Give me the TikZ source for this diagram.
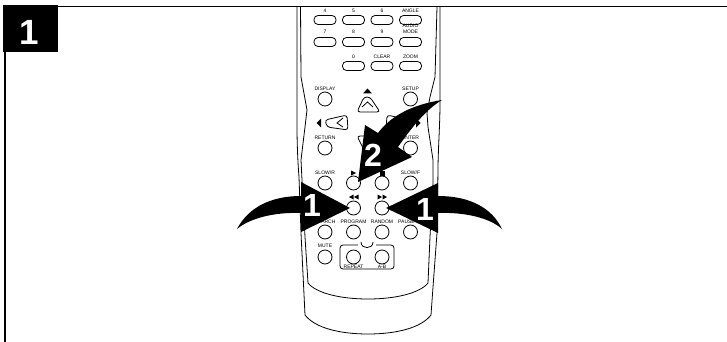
\documentclass[tikz,border=0pt]{standalone}
\usepackage{fontspec}
\setmainfont{Liberation Sans}
\usetikzlibrary{calc}

\begin{document}
\begin{tikzpicture}[
    x=1pt, y=-1pt, line width=0.8pt, node distance=28.5pt,
    key_button/.style={draw, rectangle, rounded corners=4pt, minimum width=22pt, minimum height=9pt, inner sep=0pt},
    round_button/.style={draw, circle, minimum size=14pt, inner sep=0pt},
    key_label/.style={font=\fontsize{5}{5}\selectfont, inner sep=0pt, node distance=9pt},
    step_number/.style={font=\bfseries\fontsize{32}{32}\selectfont, text=white, inner sep=0pt},
    call_arrow/.style={fill=black, draw=none}
]
\useasboundingbox (0,0) rectangle (727,342);

\draw[line width=1.3pt] (5,52) -- (5,342);
\draw[line width=1.3pt] (58,6.5) -- (727,6.5);
\node (title_box) [fill=black, minimum width=55pt, minimum height=47pt, inner sep=0pt] at (30.5,28.5) {};
\node (title_number) [step_number, font=\bfseries\fontsize{35}{35}\selectfont] at (29,32) {1};

\draw (297,7) -- (297,127) .. controls (297,145) and (298,165) .. (299,177) -- (301,233) -- (305,315) .. controls (315,328) and (340,334) .. (368,334) .. controls (396,334) and (421,328) .. (431,315) -- (433,287) -- (437,233) -- (438,170) .. controls (438,150) and (440,125) .. (440,103) -- (440,7);
\draw (300.5,7) -- (301,77) -- (307,110) -- (305,127) -- (301,160) -- (302,180) -- (305,237) -- (308,283) .. controls (316,293) and (340,299) .. (368,299) .. controls (396,299) and (420,293) .. (428,283) -- (430,237) -- (433,183) -- (433,160) -- (428,127) -- (427,113) -- (430,97) -- (435,77) -- (437,7);

\node (btn_four) [key_button] at (325,20) {};
\node (btn_five) [key_button, right of=btn_four] {};
\node (btn_six) [key_button, right of=btn_five] {};
\node (btn_angle) [key_button, right of=btn_six] {};
\node (btn_seven) [key_button] at (325,42) {};
\node (btn_eight) [key_button, right of=btn_seven] {};
\node (btn_nine) [key_button, right of=btn_eight] {};
\node (btn_audio) [key_button, right of=btn_nine] {};
\node (btn_zero) [key_button] at (353.5,66) {};
\node (btn_clear) [key_button, right of=btn_zero] {};
\node (btn_zoom) [key_button, right of=btn_clear] {};

\node (lbl_four) [key_label, above of=btn_four] {4};
\node (lbl_five) [key_label, above of=btn_five] {5};
\node (lbl_six) [key_label, above of=btn_six] {6};
\node (lbl_angle) [key_label, above of=btn_angle] {ANGLE};
\node (lbl_seven) [key_label, above of=btn_seven, yshift=1.5pt] {7};
\node (lbl_eight) [key_label, above of=btn_eight, yshift=1.5pt] {8};
\node (lbl_nine) [key_label, above of=btn_nine, yshift=1.5pt] {9};
\node (lbl_mode) [key_label, above of=btn_audio, yshift=1.5pt] {MODE};
\node (lbl_audio) [key_label, above of=lbl_mode, node distance=6pt] {AUDIO};
\node (lbl_zero) [key_label, above of=btn_zero] {0};
\node (lbl_clear) [key_label, above of=btn_clear] {CLEAR};
\node (lbl_zoom) [key_label, above of=btn_zoom] {ZOOM};

\node (btn_display) [round_button] at (325,99) {};
\node (btn_setup) [round_button] at (410.5,99) {};
\node (btn_return) [round_button] at (325,148) {};
\node (btn_enter) [round_button] at (410.5,148) {};
\node (btn_slowr) [round_button] at (325,183) {};
\node (btn_play) [round_button, right of=btn_slowr] {};
\node (btn_stop) [round_button, right of=btn_play] {};
\node (btn_slowf) [round_button, right of=btn_stop] {};
\node (btn_rewind) [round_button] at (353.5,208) {};
\node (btn_forward) [round_button, right of=btn_rewind] {};
\node (btn_search) [round_button] at (325,232) {};
\node (btn_program) [round_button, right of=btn_search] {};
\node (btn_random) [round_button, right of=btn_program] {};
\node (btn_pause) [round_button, right of=btn_random] {};
\node (btn_mute) [round_button] at (325,257) {};
\node (btn_repeat) [round_button, right of=btn_mute] {};
\node (btn_ab) [round_button, right of=btn_repeat] {};

\node (lbl_display) [key_label, above of=btn_display, node distance=10pt] {DISPLAY};
\node (lbl_setup) [key_label, above of=btn_setup, node distance=10pt] {SETUP};
\node (lbl_return) [key_label, above of=btn_return, node distance=10pt] {RETURN};
\node (lbl_enter) [key_label, above of=btn_enter, node distance=10pt] {ENTER};
\node (lbl_slowr) [key_label, above of=btn_slowr, node distance=10pt] {SLOW/R};
\node (lbl_slowf) [key_label, above of=btn_slowf, node distance=10pt] {SLOW/F};
\node (lbl_search) [key_label, above of=btn_search, node distance=10pt] {SEARCH};
\node (lbl_program) [key_label, above of=btn_program, node distance=10pt] {PROGRAM};
\node (lbl_random) [key_label, above of=btn_random, node distance=10pt] {RANDOM};
\node (lbl_pause) [key_label, above of=btn_pause, node distance=10pt, xshift=-4pt] {PAUSE};
\node (lbl_mute) [key_label, above of=btn_mute, node distance=11pt] {MUTE};
\node (lbl_repeat) [key_label, below of=btn_repeat, node distance=9.5pt] {REPEAT};
\node (lbl_ab) [key_label, below of=btn_ab, node distance=9.5pt] {A-B};

\draw[rounded corners=3pt] (358,245) -- (340,245) -- (340,269) -- (394,269) -- (394,245) -- (376,245);
\draw (361,242) .. controls (361,249.5) and (373,249.5) .. (373,242);

\draw[rounded corners=3pt] (364,97) -- (370,97) -- (380,112) -- (357,112) -- cycle;
\draw (362,107) -- (367.5,102) -- (373,107);
\draw[rounded corners=3pt] (325,120) -- (347,115) -- (348,130) -- (327,127) -- cycle;
\draw (343,118) -- (337,123) -- (343,127);
\draw[rounded corners=3pt] (409,120) -- (387,115) -- (386,130) -- (407,127) -- cycle;
\draw[rounded corners=3pt] (357,136) -- (380,136) -- (372,150) -- (364,150) -- cycle;

\fill (367.5,88.5) -- (372,93.5) -- (363,93.5) -- cycle;
\fill (316.5,123) -- (321,118.5) -- (321,127.5) -- cycle;
\fill (420.5,123) -- (416,118.5) -- (416,127.5) -- cycle;
\fill (351,170.5) -- (356,173) -- (351,175.5) -- cycle;
\fill (379.5,170.5) rectangle (384.5,175.5);
\fill (349,197) -- (353.5,194.5) -- (353.5,199.5) -- cycle;
\fill (354,197) -- (358.5,194.5) -- (358.5,199.5) -- cycle;
\fill (382,197) -- (377.5,194.5) -- (377.5,199.5) -- cycle;
\fill (387,197) -- (382.5,194.5) -- (382.5,199.5) -- cycle;

\fill[call_arrow] (350,208) -- (301,182) -- (301,196) .. controls (270,196) and (248,208) .. (237,229) .. controls (250,218) and (275,212) .. (301,213) -- (301,232) -- cycle;
\fill[call_arrow] (386,208) -- (438,183) -- (438,196) .. controls (470,196) and (492,208) .. (502,229) .. controls (490,218) and (465,212) .. (438,213) -- (438,233) -- cycle;
\fill[call_arrow] (358,182) -- (365,125) -- (378,133) .. controls (390,117) and (410,105) .. (442,100) .. controls (425,110) and (410,130) .. (398,147) -- (412,157) -- cycle;

\node (number_left) [step_number] at (312,205) {1};
\node (number_right) [step_number] at (425,209) {1};
\node (number_top) [step_number] at (373,155) {2};
\end{tikzpicture}
\end{document}
